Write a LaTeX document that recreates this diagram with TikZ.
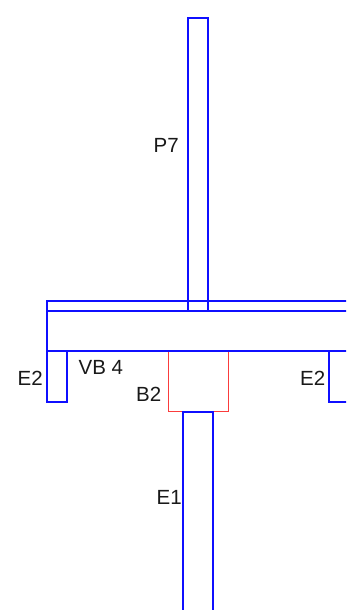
\documentclass[tikz,border=0pt]{standalone}
\usepackage{fontspec}
\setmainfont{Liberation Sans}
\definecolor{bl}{RGB}{15,15,255}
\definecolor{rd}{RGB}{250,60,60}
\tikzset{
  member/.style={draw=bl,line width=1.9pt,line join=miter},
  support/.style={draw=rd,line width=1pt},
  lab/.style={inner sep=0pt,anchor=base west,font=\fontsize{20.5}{20.5}\selectfont,text=black!90}
}
\begin{document}
\begin{tikzpicture}[x=1pt,y=-1pt]
\useasboundingbox (0,0) rectangle (346,610);
\begin{scope}
\clip (0,0) rectangle (346,610);
\draw[support] (168.4,351) rectangle (228.4,411.4);
\draw[member] (188,311) -- (188,18) -- (208,18) -- (208,311);
\draw[member] (360,301) -- (47,301) -- (47,351);
\draw[member] (47,311) -- (360,311);
\draw[member] (47,351) -- (360,351);
\draw[member] (188,351.3) -- (208,351.3);
\draw[member] (47,351) -- (47,402) -- (67,402) -- (67,351);
\draw[member] (360,402) -- (329,402) -- (329,351);
\draw[member] (183,620) -- (183,412) -- (213,412) -- (213,620);
\end{scope}
\node[lab] (p7) at (153.5,152) {P7};
\node[lab] (e2l) at (17.5,385) {E2};
\node[lab] (vb) at (78.5,374) {VB 4};
\node[lab] (b2) at (136,401) {B2};
\node[lab] (e2r) at (300,385) {E2};
\node[lab] (e1) at (156.5,504) {E1};
\end{tikzpicture}
\end{document}
